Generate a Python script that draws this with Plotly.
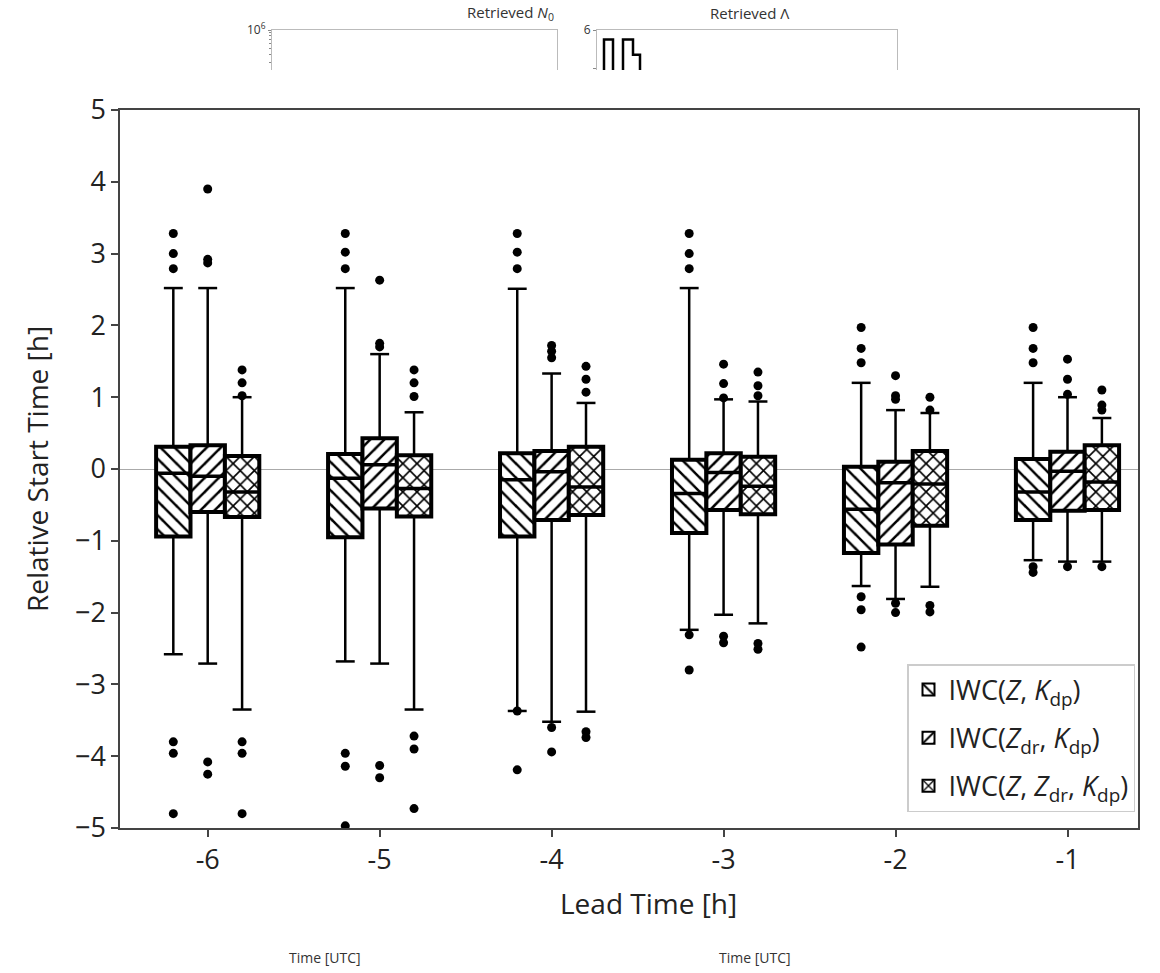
import plotly.graph_objects as go

# ---------------- data ----------------
lead_times = [-6, -5, -4, -3, -2, -1]
tick_labels = ["-6", "-5", "-4", "-3", "-2", "-1"]

names = ["IWC(<i>Z</i>, <i>K</i><sub>dp</sub>)",
         "IWC(<i>Z</i><sub>dr</sub>, <i>K</i><sub>dp</sub>)",
         "IWC(<i>Z</i>, <i>Z</i><sub>dr</sub>, <i>K</i><sub>dp</sub>)"]

# IWC(Z, Kdp)
q1_a = [-0.94, -0.95, -0.94, -0.89, -1.17, -0.71]
med_a = [-0.06, -0.13, -0.15, -0.34, -0.56, -0.32]
q3_a = [0.31, 0.21, 0.22, 0.13, 0.03, 0.14]
lo_a = [-2.58, -2.68, -3.37, -2.24, -1.63, -1.27]
hi_a = [2.52, 2.52, 2.51, 2.52, 1.20, 1.20]
out_a = [[3.28, 3.00, 2.79, -3.80, -3.96, -4.80],
         [3.28, 3.02, 2.79, -3.96, -4.14, -4.97],
         [3.28, 3.02, 2.79, -3.37, -4.19],
         [3.28, 3.00, 2.79, -2.31, -2.80],
         [1.97, 1.68, 1.48, -1.78, -1.96, -2.48],
         [1.97, 1.68, 1.48, -1.36, -1.44]]

# IWC(Zdr, Kdp)
q1_b = [-0.60, -0.55, -0.71, -0.57, -1.05, -0.58]
med_b = [-0.10, 0.06, -0.04, -0.05, -0.19, -0.03]
q3_b = [0.33, 0.43, 0.25, 0.22, 0.10, 0.24]
lo_b = [-2.71, -2.71, -3.52, -2.03, -1.81, -1.29]
hi_b = [2.52, 1.60, 1.33, 0.97, 0.82, 1.00]
out_b = [[3.90, 2.92, 2.87, -4.08, -4.25],
         [2.63, 1.75, 1.70, -4.13, -4.30],
         [1.72, 1.64, 1.55, -3.60, -3.94],
         [1.46, 1.19, 0.99, -2.33, -2.42],
         [1.30, 1.02, 0.97, -1.87, -2.00],
         [1.53, 1.25, 1.04, -1.36]]

# IWC(Z, Zdr, Kdp)
q1_c = [-0.67, -0.66, -0.64, -0.63, -0.79, -0.57]
med_c = [-0.32, -0.27, -0.25, -0.24, -0.21, -0.18]
q3_c = [0.18, 0.19, 0.31, 0.17, 0.25, 0.33]
lo_c = [-3.35, -3.35, -3.38, -2.15, -1.64, -1.29]
hi_c = [1.00, 0.79, 0.92, 0.94, 0.78, 0.71]
out_c = [[1.38, 1.20, 1.02, -3.80, -3.96, -4.80],
         [1.38, 1.20, 1.01, -3.72, -3.90, -4.73],
         [1.43, 1.25, 1.07, -3.66, -3.74],
         [1.35, 1.16, 1.02, -2.43, -2.51],
         [1.00, 0.82, -1.90, -1.99],
         [1.10, 0.89, 0.82, -1.36]]

# fragment of the neighbouring "Retrieved Λ" panel (step line)
lam_time = [12.2, 12.35, 12.8, 13.3, 13.8, 14.15, 14.3]
lam_val = [3.0, 5.75, 3.0, 5.75, 5.35, 3.0, 3.0]

# ---------------- style ----------------
patterns = ["\\", "/", "x"]
pattern_sizes = [10, 10, 10]
pattern_solidity = [0.25, 0.25, 0.3]
offsets = [-0.2, 0.0, 0.2]
box_w = 0.2
cap_hw = 0.055
FONT = "Open Sans"

series = [
    (q1_a, med_a, q3_a, lo_a, hi_a, out_a),
    (q1_b, med_b, q3_b, lo_b, hi_b, out_b),
    (q1_c, med_c, q3_c, lo_c, hi_c, out_c),
]

fig = go.Figure()

for k, (q1, med, q3, lo, hi, outs) in enumerate(series):
    xs = [g + offsets[k] for g in lead_times]
    fig.add_trace(go.Bar(
        x=xs, y=[b - a for a, b in zip(q1, q3)], base=q1, width=box_w,
        name=names[k], legendgroup=str(k),
        marker=dict(color="white",
                    line=dict(color="black", width=4),
                    pattern=dict(shape=patterns[k], fgcolor="black", bgcolor="white",
                                 fgopacity=1, size=pattern_sizes[k],
                                 solidity=pattern_solidity[k])),
        hoverinfo="skip",
    ))

for k, (q1, med, q3, lo, hi, outs) in enumerate(series):
    xs = [g + offsets[k] for g in lead_times]
    wx, wy, cx, cy, mx, my, ox, oy = [], [], [], [], [], [], [], []
    for i, x in enumerate(xs):
        wx += [x, x, None, x, x, None]
        wy += [q3[i], hi[i], None, q1[i], lo[i], None]
        cx += [x - cap_hw, x + cap_hw, None, x - cap_hw, x + cap_hw, None]
        cy += [hi[i], hi[i], None, lo[i], lo[i], None]
        mx += [x - box_w / 2, x + box_w / 2, None]
        my += [med[i], med[i], None]
        ox += [x] * len(outs[i])
        oy += outs[i]
    fig.add_trace(go.Scatter(x=wx, y=wy, mode="lines", line=dict(color="black", width=2.5),
                             showlegend=False, hoverinfo="skip"))
    fig.add_trace(go.Scatter(x=cx, y=cy, mode="lines", line=dict(color="black", width=2.5),
                             showlegend=False, hoverinfo="skip"))
    fig.add_trace(go.Scatter(x=mx, y=my, mode="lines", line=dict(color="black", width=3.5),
                             showlegend=False, hoverinfo="skip"))
    fig.add_trace(go.Scatter(x=ox, y=oy, mode="markers",
                             marker=dict(color="black", size=9),
                             showlegend=False, hoverinfo="skip"))

# neighbouring panel fragments
fig.add_trace(go.Scatter(x=[], y=[], xaxis="x2", yaxis="y2", showlegend=False))
fig.add_trace(go.Scatter(x=lam_time, y=lam_val, xaxis="x3", yaxis="y3", mode="lines",
                         line=dict(color="black", width=2.5, shape="hv"),
                         showlegend=False, hoverinfo="skip"))

# ---------------- layout (positions given in screenshot pixels) ----------------
W, H = 1160, 973
PLOT_L, PLOT_R, PLOT_T, PLOT_B = 120, 1138, 110, 828
ML = PLOT_L
MR = W - PLOT_R
MT = 0
MB = H - PLOT_B
PW, PH = W - ML - MR, H - MT - MB


def px_x(p):
    return (p - ML) / PW


def px_y(p):
    return (H - MB - p) / PH


axis_common = dict(showline=True, linecolor="#444", linewidth=1.5, mirror=True,
                   ticks="outside", ticklen=7, tickwidth=1.5, tickcolor="#444",
                   showgrid=False, automargin=False,
                   tickfont=dict(family=FONT, size=27, color="#222"))

panel_line = dict(showline=True, linecolor="#bbb", linewidth=1.2, showgrid=False,
                  zeroline=False, automargin=False)

fig.update_layout(
    width=W, height=H,
    margin=dict(l=ML, r=MR, t=MT, b=MB, autoexpand=False),
    paper_bgcolor="white", plot_bgcolor="white",
    barmode="overlay",
    font=dict(family=FONT, color="#222"),
    xaxis=dict(range=[-6.51, -0.59], tickvals=lead_times, ticktext=tick_labels,
               zeroline=False, domain=[0, 1], **axis_common),
    yaxis=dict(range=[-5, 5], dtick=1, domain=[0, px_y(PLOT_T)],
               zeroline=True, zerolinecolor="#aaa", zerolinewidth=1.2,
               title=dict(text="Relative Start Time [h]", font=dict(family=FONT, size=28, color="#222"),
                          standoff=18),
               **axis_common),
    xaxis2=dict(domain=[px_x(272), px_x(557)], anchor="y2", side="top", range=[12, 27],
                showticklabels=False, ticks="", mirror=False, **panel_line),
    yaxis2=dict(domain=[px_y(70), px_y(30)], anchor="x2", type="log",
                range=[5.35, 6], tickvals=[1e6], ticktext=["10<sup>6</sup>"],
                ticks="outside", ticklen=3, tickcolor="#888", mirror=True,
                minor=dict(tickvals=[9e5, 8e5, 7e5, 6e5, 5e5, 4e5, 3e5], ticks="outside",
                           ticklen=2, tickcolor="#888"),
                tickfont=dict(family=FONT, size=12, color="#333"), **panel_line),
    xaxis3=dict(domain=[px_x(597), px_x(897)], anchor="y3", side="top", range=[12, 27],
                showticklabels=False, ticks="", mirror=False, **panel_line),
    yaxis3=dict(domain=[px_y(70), px_y(30)], anchor="x3", range=[4.95, 6],
                tickvals=[5, 6], ticktext=["", "6"], ticks="outside", ticklen=3,
                tickcolor="#888", mirror=True,
                tickfont=dict(family=FONT, size=12, color="#333"), **panel_line),
    legend=dict(x=px_x(1135), xanchor="right", y=px_y(812), yanchor="bottom",
                bgcolor="white", bordercolor="#ccc", borderwidth=1.5,
                font=dict(family=FONT, size=27, color="#222"),
                tracegroupgap=10, itemsizing="constant"),
    annotations=[
        dict(text="Lead Time [h]", x=px_x(648), y=px_y(903), xref="paper", yref="paper",
             showarrow=False, font=dict(family=FONT, size=28, color="#222"),
             xanchor="center", yanchor="middle"),
        dict(text="Retrieved <i>N</i><sub>0</sub>", x=px_x(510), y=px_y(13), xref="paper",
             yref="paper", showarrow=False, font=dict(family=FONT, size=15, color="#333"),
             xanchor="center", yanchor="middle"),
        dict(text="Retrieved Λ", x=px_x(750), y=px_y(13), xref="paper", yref="paper",
             showarrow=False, font=dict(family=FONT, size=15, color="#333"),
             xanchor="center", yanchor="middle"),
        dict(text="Time [UTC]", x=px_x(325), y=px_y(957), xref="paper", yref="paper",
             showarrow=False, font=dict(family=FONT, size=14, color="#333"),
             xanchor="center", yanchor="middle"),
        dict(text="Time [UTC]", x=px_x(755), y=px_y(957), xref="paper", yref="paper",
             showarrow=False, font=dict(family=FONT, size=14, color="#333"),
             xanchor="center", yanchor="middle"),
    ],
)

# remove the default page margin so the figure starts at the window's corner
fig.write_html("out.html",
               config={"displayModeBar": False},
               post_script="document.body.style.margin='0';document.body.style.padding='0';")
